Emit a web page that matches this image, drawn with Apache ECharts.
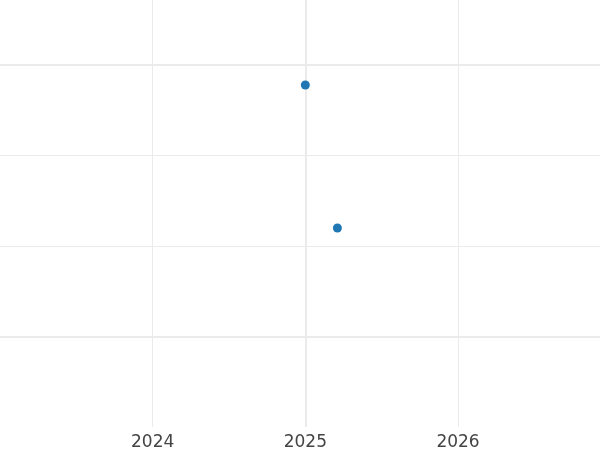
<!DOCTYPE html>
<html>
<head>
<meta charset="utf-8">
<script src="https://cdn.jsdelivr.net/npm/echarts@6/dist/echarts.min.js"></script>
<style>html,body{margin:0;padding:0;background:#fff}#c{width:600px;height:450px}</style>
</head>
<body>
<div id="c"></div>
<script>
// Data (x as decimal year)
const pointYears = [2025.0, 2025.21];
const pointValues = [3.78, 2.2];
const xTickLabels = ['2024', '2025', '2026'];
const xMajorLines = [2025];
const xMinorLines = [2024, 2026];
const yMajorLines = [1, 4];
const yMinorLines = [2, 3];

const gridColor = '#ebebeb';
const gridLineData = [];
xMinorLines.forEach(v => gridLineData.push({xAxis: v, lineStyle: {width: 1, color: gridColor, type: 'solid'}}));
xMajorLines.forEach(v => gridLineData.push({xAxis: v, lineStyle: {width: 2, color: gridColor, type: 'solid'}}));
yMinorLines.forEach(v => gridLineData.push({yAxis: v, lineStyle: {width: 1, color: gridColor, type: 'solid'}}));
yMajorLines.forEach(v => gridLineData.push({yAxis: v, lineStyle: {width: 2, color: gridColor, type: 'solid'}}));

const chart = echarts.init(document.getElementById('c'), null, {renderer: 'canvas'});
chart.setOption({
  animation: false,
  backgroundColor: '#ffffff',
  grid: {left: 0, right: 0, top: 0, bottom: 23, containLabel: false, outerBoundsMode: 'none'},
  xAxis: {
    type: 'value',
    min: 2023,
    max: 2026.93,
    interval: 1,
    axisLine: {show: false},
    axisTick: {show: false},
    splitLine: {show: false},
    axisLabel: {
      show: true,
      margin: 7,
      fontFamily: 'DejaVu Sans',
      fontSize: 17,
      color: '#444444',
      showMinLabel: true,
      showMaxLabel: true,
      formatter: v => xTickLabels.indexOf(String(v)) >= 0 ? String(v) : ''
    }
  },
  yAxis: {
    type: 'value',
    min: 0,
    max: 4.72,
    interval: 1,
    axisLine: {show: false},
    axisTick: {show: false},
    axisLabel: {show: false},
    splitLine: {show: false}
  },
  series: [
    {
      type: 'line',
      data: [],
      z: 1,
      silent: true,
      markLine: {
        silent: true,
        symbol: 'none',
        label: {show: false},
        emphasis: {disabled: true},
        animation: false,
        data: gridLineData
      }
    },
    {
      type: 'scatter',
      z: 10,
      symbolSize: 9,
      itemStyle: {color: '#1f77b4', opacity: 1},
      data: pointYears.map((x, i) => [x, pointValues[i]])
    }
  ]
});
</script>
</body>
</html>
